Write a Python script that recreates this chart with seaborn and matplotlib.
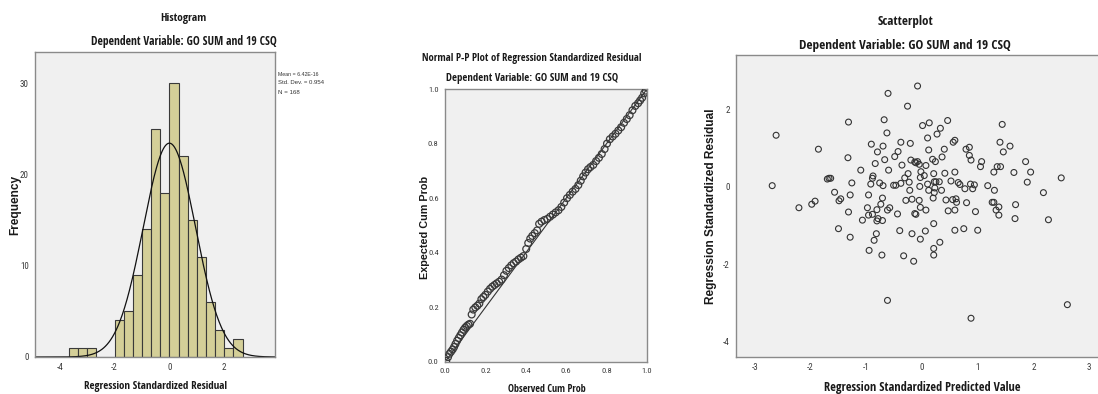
import numpy as np
import pandas as pd
import matplotlib
matplotlib.use("Agg")
import matplotlib.pyplot as plt
from matplotlib import font_manager as fm
import seaborn as sns

# ---------------- data ----------------
# Histogram of regression standardized residuals (bin width 1/3)
hist_bin_left = [-3.667, -3.333, -3.0, -2.667, -2.333, -2.0, -1.667, -1.333, -1.0,
                 -0.667, -0.333, 0.0, 0.333, 0.667, 1.0, 1.333, 1.667, 2.0, 2.333]
hist_counts = [1, 1, 1, 0, 0, 4, 5, 9, 14, 25, 18, 30, 22, 15, 11, 6, 3, 1, 2]
hist_mean = 6.42e-16
hist_sd = 0.954
hist_n = 168
hist_xticks = [-4, -2, 0, 2]
hist_yticks = [0, 10, 20, 30]

# Normal P-P plot (observed cum prob, expected cum prob)
pp_observed = [0.006, 0.015, 0.022, 0.030, 0.038, 0.045, 0.052, 0.060, 0.068, 0.076,
               0.084, 0.092, 0.100, 0.108, 0.116, 0.124, 0.132, 0.140, 0.150, 0.160,
               0.170, 0.180, 0.190, 0.200, 0.212, 0.223, 0.234, 0.245, 0.256, 0.268,
               0.280, 0.292, 0.304, 0.316, 0.328, 0.340, 0.352, 0.364, 0.376, 0.388,
               0.402, 0.412, 0.422, 0.432, 0.444, 0.456, 0.466, 0.478, 0.492, 0.506,
               0.520, 0.534, 0.548, 0.562, 0.576, 0.590, 0.604, 0.618, 0.632, 0.646,
               0.660, 0.672, 0.684, 0.696, 0.708, 0.720, 0.734, 0.748, 0.762, 0.776,
               0.790, 0.802, 0.816, 0.830, 0.844, 0.858, 0.872, 0.886, 0.900, 0.914,
               0.928, 0.942, 0.956, 0.966, 0.976, 0.986, 0.994]
pp_expected = [0.004, 0.018, 0.030, 0.038, 0.046, 0.055, 0.066, 0.078, 0.088, 0.098,
               0.108, 0.118, 0.126, 0.132, 0.137, 0.140, 0.174, 0.192, 0.200, 0.206,
               0.214, 0.230, 0.238, 0.246, 0.258, 0.268, 0.276, 0.282, 0.288, 0.294,
               0.302, 0.318, 0.334, 0.344, 0.354, 0.362, 0.368, 0.376, 0.382, 0.388,
               0.414, 0.436, 0.452, 0.462, 0.472, 0.482, 0.506, 0.514, 0.520, 0.524,
               0.532, 0.540, 0.548, 0.556, 0.568, 0.584, 0.600, 0.612, 0.624, 0.634,
               0.648, 0.664, 0.680, 0.694, 0.706, 0.714, 0.722, 0.736, 0.748, 0.762,
               0.780, 0.800, 0.816, 0.826, 0.836, 0.848, 0.860, 0.876, 0.890, 0.904,
               0.922, 0.938, 0.948, 0.958, 0.968, 0.984, 0.994]
pp_ticks = [0.0, 0.2, 0.4, 0.6, 0.8, 1.0]
pp_ticklabels = ["0.0", "0.2", "0.4", "0.6", "0.8", "1.0"]

# Scatterplot: standardized predicted value vs standardized residual
sc_pred = [-2.62, -2.69, -1.86, -2.21, -1.98, -1.92, -1.32, -1.33, -1.10, -1.70,
           -1.67, -1.64, -1.57, -1.49, -1.46, -1.26, -1.29, -1.32, -1.50, -1.29,
           -1.07, -0.95, -0.98, -0.96, -0.96, -0.92, -0.89, -0.88, -0.91, -0.84,
           -0.80, -0.76, -0.74, -0.71, -0.70, -0.70, -0.68, -0.67, -0.63, -0.61,
           -0.60, -0.81, -0.79, -0.81, -0.89, -0.71, -0.82, -0.86, -0.72, -0.62,
           -0.58, -0.44, -0.62, -0.51, -0.47, -0.49, -0.43, -0.38, -0.38, -0.36,
           -0.29, -0.40, -0.33, -0.26, -0.25, -0.31, -0.23, -0.22, -0.21, -0.20,
           -0.18, -0.18, -0.15, -0.13, -0.11, -0.08, -0.11, -0.13, -0.08, -0.05,
           -0.04, -0.05, -0.03, -0.03, -0.03, -0.02, 0.01, 0.04, 0.07, 0.07,
           0.06, 0.10, 0.10, 0.12, 0.13, 0.12, 0.19, 0.21, 0.22, 0.23,
           0.22, 0.25, 0.24, 0.20, 0.21, 0.21, 0.21, 0.27, 0.31, 0.33,
           0.32, 0.35, 0.36, 0.40, 0.41, 0.43, 0.46, 0.47, 0.52, 0.56,
           0.59, 0.59, 0.55, 0.61, 0.62, 0.59, 0.59, 0.65, 0.68, 0.75,
           0.77, 0.79, 0.80, 0.85, 0.85, 0.88, 0.87, 0.91, 0.94, 0.96,
           0.88, 1.00, 1.07, 1.05, 1.18, 1.29, 1.30, 1.26, 1.29, 1.33,
           1.35, 1.41, 1.40, 1.44, 1.46, 1.38, 1.38, 1.58, 1.65, 1.68,
           1.67, 1.86, 1.89, 1.95, 2.18, 2.27, 2.50, 2.61]
sc_resid = [1.33, 0.03, 0.97, -0.54, -0.45, -0.37, 1.67, 0.75, 0.43, 0.20,
            0.22, 0.22, -0.14, -0.36, -0.31, 0.10, -0.21, -0.65, -1.08, -1.30,
            -0.86, -1.64, -0.54, -0.73, -0.21, 0.07, 0.22, 0.28, 1.10, 0.60,
            0.90, 0.10, -0.45, -0.29, 0.03, 1.05, 1.73, 0.70, 1.39, 2.41,
            0.43, -0.59, -0.82, -0.88, -0.71, -0.87, -1.21, -1.38, -1.76, -0.60,
            -0.54, -0.70, -2.93, 0.04, 0.04, 0.78, 0.91, 1.15, 0.09, 0.56,
            -0.35, -1.13, -1.78, 2.08, 0.34, 0.23, 0.12, -0.09, 1.12, 0.69,
            -0.32, -1.21, -1.92, 0.64, 0.62, 0.65, -0.71, -0.69, 2.60, 0.58,
            0.01, -0.35, -0.53, -1.35, 0.24, 0.39, 1.58, 0.29, 0.55, -0.60,
            -1.14, 1.26, 0.07, 0.95, 1.65, -0.09, 0.71, 0.34, 0.13, -0.03,
            -0.15, 0.13, 0.65, -0.29, -0.95, -1.59, -1.76, 1.36, 0.13, 1.51,
            -1.43, -0.09, 0.77, 0.97, 0.35, -0.34, 1.71, -0.62, 0.15, 1.15,
            1.20, 0.38, -0.33, -0.31, -0.40, -0.60, -1.12, 0.11, 0.06, -1.08,
            -0.05, 0.97, -0.41, 1.02, 0.81, 0.69, 0.07, -0.05, 0.05, -0.64,
            -3.39, -1.12, 0.65, 0.52, 0.03, 0.38, -0.09, -0.40, -0.40, -0.60,
            0.52, 0.52, 1.15, 1.61, 0.90, -0.73, -0.52, 1.05, 0.37, -0.46,
            -0.82, 0.65, 0.12, 0.38, -0.15, -0.85, 0.23, -3.04]
sc_xticks = [-3, -2, -1, 0, 1, 2, 3]
sc_yticks = [-4, -2, 0, 2]

# ---------------- fonts ----------------
sns.set_style("white")
plt.rcParams["font.family"] = ["Liberation Sans", "DejaVu Sans"]
plt.rcParams["axes.unicode_minus"] = False

W, H = 1098, 394
fig = plt.figure(figsize=(W / 100, H / 100), dpi=100)
fig.patch.set_facecolor("white")
renderer = fig.canvas.get_renderer()

BASES = ("liberation sans", "dejavu sans", "roboto", "open sans", "noto sans", "lato", "inter")
WIDTHWORDS = ("condensed", "narrow", "semicondensed", "semi", "extra", "cond", "")


def candidates(bold):
    out = []
    seen = set()
    for f in fm.fontManager.ttflist:
        fn = f.fname.lower()
        name = f.name.lower()
        if "italic" in fn or "oblique" in fn or "mono" in fn or "cjk" in fn:
            continue
        base = None
        for b in BASES:
            if name.startswith(b):
                base = b
                break
        if base is None:
            continue
        rest = name[len(base):].strip()
        if any(w not in WIDTHWORDS for w in rest.split()):
            continue
        w = f.weight if isinstance(f.weight, int) else {"bold": 700, "normal": 400, "regular": 400}.get(str(f.weight), 400)
        if bold and w < 600:
            continue
        if not bold and (w < 350 or w > 500):
            continue
        if f.fname in seen:
            continue
        seen.add(f.fname)
        out.append(f.fname)
    return out


def text_width(fp, s):
    w, h, d = renderer.get_text_width_height_descent(s, fp, ismath=False)
    return w


def pick_font(bold, sample, target_w, target_pt, fallback_family):
    best, best_err = None, 1e9
    for path in candidates(bold):
        fp = fm.FontProperties(fname=path, size=target_pt)
        try:
            w = text_width(fp, sample)
        except Exception:
            continue
        if w <= 0:
            continue
        err = abs(np.log(w / target_w))
        if err < best_err:
            best, best_err = fp, err
    if best is None:
        best = fm.FontProperties(family=fallback_family, weight="bold" if bold else "normal")
    return best


NB = pick_font(True, "Dependent Variable: GO SUM and 19 CSQ", 184, 9.0,
               ["Liberation Sans", "DejaVu Sans"])
NR = pick_font(False, "0.8", 9.3, 6.5, ["Liberation Sans", "DejaVu Sans"])
WB = fm.FontProperties(family=["Liberation Sans", "DejaVu Sans"], weight="bold")
WR = fm.FontProperties(family=["Liberation Sans", "DejaVu Sans"], weight="normal")

BG = "#f0f0f0"
SPINE = "#8a8a8a"
TICKC = "#3a3a3a"


def rect(l, t, r, b):
    return [l / W, 1 - b / H, (r - l) / W, (b - t) / H]


def style_axes(ax, tsize):
    ax.set_facecolor(BG)
    for s in ax.spines.values():
        s.set_color(SPINE)
        s.set_linewidth(1.0)
        s.set_visible(True)
    ax.tick_params(direction="out", length=3, width=0.7, color="#555555",
                   labelcolor=TICKC, pad=1.5)
    fp = NR.copy()
    fp.set_size(tsize)
    for lab in ax.get_xticklabels() + ax.get_yticklabels():
        lab.set_fontproperties(fp)
    ax.set_xlabel("")
    ax.set_ylabel("")


def ftext(x, y, s, target, base=None, rot=0, ha="center", color="#1a1a1a", size0=9.0):
    """Place a text at pixel (x, y), sized so that its length matches target px."""
    fp = (base if base is not None else NB).copy()
    fp.set_size(size0)
    w = text_width(fp, s)
    fp.set_size(size0 * target / max(w, 1))
    fig.text(x / W, 1 - y / H, s, fontproperties=fp, rotation=rot, ha=ha,
             va="center", color=color)


# ---------------- Histogram ----------------
ax1 = fig.add_axes(rect(35, 52, 275, 357))
bw = 1 / 3
edges = [float(v) for v in hist_bin_left] + [hist_bin_left[-1] + bw]
hist_df = pd.DataFrame({"center": np.array(hist_bin_left) + bw / 2,
                        "count": hist_counts})
sns.histplot(data=hist_df, x="center", weights="count", bins=edges, ax=ax1,
             color="#d4cf98", alpha=1.0, edgecolor="#3a3a3a", linewidth=0.8)
xs = np.linspace(-4.9, 3.85, 400)
ys = hist_n * bw * np.exp(-0.5 * ((xs - hist_mean) / hist_sd) ** 2) / (hist_sd * np.sqrt(2 * np.pi))
sns.lineplot(x=xs, y=ys, ax=ax1, color="#111111", linewidth=0.9)
ax1.set_xlim(-4.9, 3.85)
ax1.set_ylim(0, 33.4)
ax1.set_xticks(hist_xticks)
ax1.set_yticks(hist_yticks)
style_axes(ax1, 6.5)

ftext(183, 18, "Histogram", 46)
ftext(184, 42, "Dependent Variable: GO SUM and 19 CSQ", 186)
ftext(155, 386, "Regression Standardized Residual", 145)
ftext(15, 205, "Frequency", 60, base=WB, rot=90)
ftext(278, 74, "Mean = 6.42E-16", 41, base=WR, ha="left", color="#333333", size0=5)
ftext(278, 83, "Std. Dev. = 0.954", 47, base=WR, ha="left", color="#333333", size0=5)
ftext(278, 92, "N = 168", 22, base=WR, ha="left", color="#333333", size0=5)

# ---------------- P-P plot ----------------
ax2 = fig.add_axes(rect(445, 89, 647, 362))
sns.lineplot(x=[0, 1], y=[0, 1], ax=ax2, color="#333333", linewidth=0.8)
pp = pd.DataFrame({"obs": pp_observed, "exp": pp_expected})
sns.scatterplot(data=pp, x="obs", y="exp", ax=ax2, marker="o", s=24,
                facecolor="none", edgecolor="#3a3a3a", linewidth=0.9, zorder=3)
ax2.set_xlim(0, 1)
ax2.set_ylim(0, 1)
ax2.set_xticks(pp_ticks)
ax2.set_xticklabels(pp_ticklabels)
ax2.set_yticks(pp_ticks)
ax2.set_yticklabels(pp_ticklabels)
style_axes(ax2, 6.0)

ftext(532, 58, "Normal P-P Plot of Regression Standardized Residual", 220)
ftext(532, 79, "Dependent Variable: GO SUM and 19 CSQ", 173)
ftext(547, 389, "Observed Cum Prob", 79)
ftext(425, 227, "Expected Cum Prob", 103, base=WB, rot=90)

# ---------------- Scatterplot ----------------
ax3 = fig.add_axes(rect(736, 55, 1098, 357))
sc = pd.DataFrame({"pred": sc_pred, "resid": sc_resid})
sns.scatterplot(data=sc, x="pred", y="resid", ax=ax3, marker="o", s=18,
                facecolor="none", edgecolor="#333333", linewidth=0.8)
ax3.set_xlim(-3.34, 3.16)
ax3.set_ylim(-4.39, 3.40)
ax3.set_xticks(sc_xticks)
ax3.set_yticks(sc_yticks)
style_axes(ax3, 6.5)
ax3.spines["right"].set_visible(False)

ftext(905, 21, "Scatterplot", 56)
ftext(905, 45, "Dependent Variable: GO SUM and 19 CSQ", 212)
ftext(922, 387, "Regression Standardized Predicted Value", 197)
ftext(711, 206, "Regression Standardized Residual", 195, base=WB, rot=90)

fig.savefig("out.png", dpi=100, facecolor="white")
